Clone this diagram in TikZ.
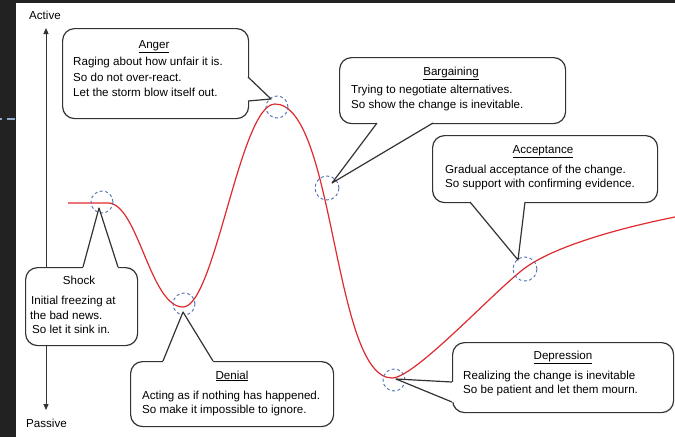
\documentclass[tikz,border=0pt]{standalone}
\usepackage{fontspec}
\setmainfont{Liberation Sans}
\usetikzlibrary{arrows.meta}
\definecolor{darkbg}{HTML}{222222}
\definecolor{boxline}{HTML}{333333}
\definecolor{hlblue}{HTML}{4F6FB0}
\definecolor{curvered}{HTML}{E02A2E}
\definecolor{dashblue}{HTML}{8FA9C9}
\newcommand\mytail[5]{\fill[white] #1 -- #2 -- #3 -- #4 -- #5 -- cycle; \draw[tl] #2 -- #3 -- #4;}
\begin{document}
\begin{tikzpicture}[x=1pt,y=-1pt,
  box/.style={draw=boxline, line width=1.2pt, fill=white, rounded corners=12pt, inner sep=0pt, anchor=north west},
  tl/.style={draw=boxline, line width=1.2pt, line join=round},
  hl/.style={circle, draw=hlblue, line width=0.9pt, dash pattern=on 3pt off 2.5pt, inner sep=0pt, minimum size=22pt},
  txt/.style={font=\fontsize{11.6}{14}\selectfont, inner sep=0pt, anchor=base west, text=black},
  ttl/.style={txt, anchor=base},
  axisline/.style={draw=black!80, line width=1pt, {Triangle[length=6pt,width=5pt]}-{Triangle[length=6pt,width=5pt]}},
  curve/.style={draw=curvered, line width=1.2pt}]
\useasboundingbox (0,0) rectangle (675,437);
\fill[white] (0,0) rectangle (675,437);
\fill[darkbg] (0,0) rectangle (16,437);
\fill[darkbg] (0,0) rectangle (675,2.5);
\draw[dashblue, line width=1.5pt, dash pattern=on 2pt off 5pt on 8pt off 20pt] (0,119) -- (16,119);

% axis
\coordinate (axTop) at (46,28);
\coordinate (axBot) at (46,410);
\draw[axisline] (axBot) -- (axTop);
\node[txt] (active) at (29,19) {Active};
\node[txt] (passive) at (26,427) {Passive};

% curve
\draw[curve] (68,203) -- (108,203)
  .. controls (138,203) and (150,307) .. (183,307)
  .. controls (215,307) and (240,104) .. (275,104)
  .. controls (335,104) and (333,378) .. (392,378)
  .. controls (415,378) and (495,290) .. (525,268)
  .. controls (555,246) and (620,228) .. (675,217);

% highlight circles
\node[hl] (cS) at (102,202) {};
\node[hl] (cD) at (184,304) {};
\node[hl] (cA) at (277,107) {};
\node[hl, minimum size=24pt] (cB) at (327,188) {};
\node[hl] (cP) at (394,380) {};
\node[hl, minimum size=24pt] (cC) at (525,269) {};

% tail tips
\coordinate (tS) at (99,208);
\coordinate (tD) at (183,312);
\coordinate (tA) at (271,99);
\coordinate (tB) at (332,183);
\coordinate (tC) at (518,260);
\coordinate (tP) at (396,379);

% boxes
\node[box, minimum width=186pt, minimum height=90pt] (anger) at (62,28) {};
\mytail{(246,77)}{(248,77)}{(tA)}{(248,101)}{(246,101)}
\node[box, minimum width=226pt, minimum height=66pt] (barg) at (339,57) {};
\mytail{(377,121)}{(377,123)}{(tB)}{(433,123)}{(433,121)}
\node[box, minimum width=225pt, minimum height=67pt] (acc) at (432,135) {};
\mytail{(470,200)}{(470,202)}{(tC)}{(525,202)}{(525,200)}
\node[box, minimum width=221pt, minimum height=70pt] (dep) at (452,342) {};
\mytail{(454,382)}{(452,382)}{(tP)}{(452,402)}{(454,402)}
\node[box, minimum width=112pt, minimum height=78pt] (shock) at (25,267) {};
\mytail{(83,269)}{(83,267)}{(tS)}{(118,267)}{(118,269)}
\node[box, minimum width=203pt, minimum height=65pt] (denial) at (130,361) {};
\mytail{(163,363)}{(163,361)}{(tD)}{(213,361)}{(213,363)}

% texts
\node[ttl] (angerT) at (154,48) {\underline{Anger}};
\node[txt] (anger1) at (73,65) {Raging about how unfair it is.};
\node[txt] (anger2) at (73,81) {So do not over-react.};
\node[txt] (anger3) at (73,96) {Let the storm blow itself out.};

\node[ttl] (bargT) at (451,75) {\underline{Bargaining}};
\node[txt] (barg1) at (351,93) {Trying to negotiate alternatives.};
\node[txt] (barg2) at (351,108) {So show the change is inevitable.};

\node[ttl] (accT) at (543,153) {\underline{Acceptance}};
\node[txt] (acc1) at (445,173) {Gradual acceptance of the change.};
\node[txt] (acc2) at (445,187) {So support with confirming evidence.};

\node[ttl] (depT) at (563,359) {\underline{Depression}};
\node[txt] (dep1) at (463,379) {Realizing the change is inevitable};
\node[txt] (dep2) at (463,393) {So be patient and let them mourn.};

\node[ttl] (shockT) at (79,284) {Shock};
\node[txt] (shock1) at (31,304) {Initial freezing at};
\node[txt] (shock2) at (30,319) {the bad news.};
\node[txt] (shock3) at (32,333) {So let it sink in.};

\node[ttl] (denT) at (232,379) {\underline{Denial}};
\node[txt] (den1) at (142,399) {Acting as if nothing has happened.};
\node[txt] (den2) at (142,413) {So make it impossible to ignore.};
\end{tikzpicture}
\end{document}
